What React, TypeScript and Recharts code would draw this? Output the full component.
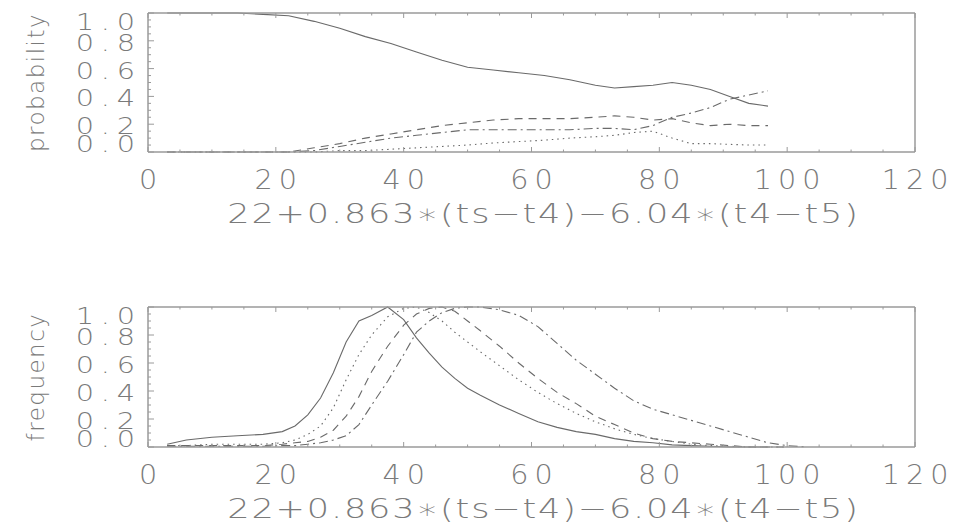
import { LineChart, Line, XAxis, YAxis, Label } from "recharts";

// shared axis ticks (majors every 20 / 0.2, minors every 5 / 0.05)
const xTicks = [0, 5, 10, 15, 20, 25, 30, 35, 40, 45, 50, 55, 60, 65, 70, 75, 80, 85, 90, 95, 100, 105, 110, 115, 120];
const yTicks = [0, 0.05, 0.1, 0.15, 0.2, 0.25, 0.3, 0.35, 0.4, 0.45, 0.5, 0.55, 0.6, 0.65, 0.7, 0.75, 0.8, 0.85, 0.9, 0.95, 1];
const xTitle = "22+0.863\u2217(ts\u2212t4)\u22126.04\u2217(t4\u2212t5)";

// top panel: probability
const probX = [3, 8, 14, 18, 22, 26, 30, 34, 38, 42, 46, 50, 54, 58, 62, 66, 70, 73, 76, 79, 82, 85, 88, 91, 94, 97];
const probSolid = [1.0, 1.0, 1.0, 0.99, 0.98, 0.94, 0.89, 0.83, 0.78, 0.72, 0.66, 0.61, 0.59, 0.57, 0.55, 0.52, 0.48, 0.46, 0.47, 0.48, 0.5, 0.48, 0.45, 0.4, 0.35, 0.33];
const probDashed = [0, 0, 0, 0, 0, 0.03, 0.06, 0.1, 0.13, 0.16, 0.19, 0.21, 0.23, 0.24, 0.24, 0.24, 0.25, 0.26, 0.25, 0.23, 0.24, 0.21, 0.19, 0.2, 0.19, 0.19];
const probDashDot = [0, 0, 0, 0, 0, 0.01, 0.04, 0.07, 0.1, 0.12, 0.14, 0.16, 0.16, 0.16, 0.16, 0.16, 0.17, 0.17, 0.16, 0.19, 0.25, 0.28, 0.32, 0.38, 0.41, 0.44];
const probDotted = [0, 0, 0, 0, 0, 0, 0.01, 0.01, 0.02, 0.03, 0.04, 0.05, 0.065, 0.075, 0.085, 0.1, 0.11, 0.12, 0.14, 0.15, 0.1, 0.06, 0.06, 0.055, 0.05, 0.05];

// bottom panel: frequency
const freqX = [3, 6, 10, 14, 18, 21, 23, 25, 27, 29, 31, 33, 35, 37.5, 40, 42, 44, 46, 48, 50, 52, 55, 58, 61, 64, 67, 70, 73, 76, 79, 82, 85, 88, 91, 94, 97, 100, 103];
const freqSolid = [0.02, 0.05, 0.07, 0.08, 0.09, 0.11, 0.15, 0.23, 0.35, 0.53, 0.75, 0.9, 0.94, 1.0, 0.91, 0.78, 0.67, 0.57, 0.49, 0.42, 0.37, 0.3, 0.24, 0.18, 0.14, 0.11, 0.09, 0.06, 0.04, 0.03, 0.015, 0.01, 0.005, 0, 0, 0, null, null];
const freqDotted = [0.01, 0.01, 0.02, 0.02, 0.02, 0.03, 0.05, 0.09, 0.15, 0.28, 0.48, 0.66, 0.8, 0.93, 0.99, 1.0, 0.96, 0.9, 0.82, 0.75, 0.68, 0.58, 0.48, 0.39, 0.31, 0.24, 0.18, 0.13, 0.09, 0.06, 0.04, 0.02, 0.01, 0.005, 0, 0, 0, null];
const freqDashed = [0.01, 0.01, 0.01, 0.01, 0.01, 0.02, 0.03, 0.04, 0.07, 0.12, 0.22, 0.36, 0.54, 0.72, 0.87, 0.95, 0.99, 1.0, 0.97, 0.9, 0.83, 0.72, 0.6, 0.49, 0.39, 0.31, 0.22, 0.16, 0.1, 0.06, 0.04, 0.03, 0.02, 0.01, 0, 0, 0, null];
const freqDashDot = [0.005, 0.005, 0.005, 0.005, 0.005, 0.01, 0.01, 0.02, 0.03, 0.05, 0.08, 0.16, 0.3, 0.47, 0.66, 0.82, 0.9, 0.96, 0.99, 1.0, 1.0, 0.98, 0.94, 0.86, 0.74, 0.62, 0.52, 0.42, 0.33, 0.27, 0.23, 0.19, 0.15, 0.11, 0.07, 0.03, 0.01, 0];

const probData = probX.map((x, i) => ({ x, a: probSolid[i], b: probDotted[i], c: probDashed[i], d: probDashDot[i] }));
const freqData = freqX.map((x, i) => ({ x, a: freqSolid[i], b: freqDotted[i], c: freqDashed[i], d: freqDashDot[i] }));

const font = "'DejaVu Sans', sans-serif";
const axisColor = "#9a9a9a";
const textColor = "#7a7a7a";
const lineColor = "#6a6a6a";

const isMajorX = (v: number) => v % 20 === 0;
const isMajorY = (v: number) => Math.abs(v * 5 - Math.round(v * 5)) < 1e-6;

// IDL vector font glyphs are wide, so stretch the text sideways
const WideText = ({ x, y, anchor, sx, size, ls, children }: any) => (
  <text transform={`translate(${x} ${y}) scale(${sx} 1)`} dy="0.35em" textAnchor={anchor}
    fontFamily={font} fontSize={size} letterSpacing={ls} fill={textColor} fontWeight={300}>
    {children}
  </text>
);

const BottomTick = ({ x, y, payload }: any) => {
  const v = payload.value;
  const major = isMajorX(v);
  return (
    <g>
      <line x1={x} y1={y} x2={x} y2={y - (major ? 5 : 2.5)} stroke={axisColor} />
      {major && <WideText x={x + 3} y={y + 28} anchor="middle" sx={1.1} size={26} ls={5.5}>{v}</WideText>}
    </g>
  );
};

const TopTick = ({ x, y, payload }: any) => {
  const major = isMajorX(payload.value);
  return <line x1={x} y1={y} x2={x} y2={y + (major ? 5 : 2.5)} stroke={axisColor} />;
};

const LeftTick = ({ x, y, payload }: any) => {
  const v = payload.value;
  const major = isMajorY(v);
  const shift = v === 1 ? 9 : v === 0 ? -8 : 2;
  return (
    <g>
      <line x1={x} y1={y} x2={x + (major ? 6 : 3)} y2={y} stroke={axisColor} />
      {major && <WideText x={x - 6} y={y + shift} anchor="end" sx={1.25} size={23} ls={5.5}>{v.toFixed(1)}</WideText>}
    </g>
  );
};

const RightTick = ({ x, y, payload }: any) => {
  const major = isMajorY(payload.value);
  return <line x1={x} y1={y} x2={x - (major ? 6 : 3)} y2={y} stroke={axisColor} />;
};

const XTitle = ({ viewBox }: any) => (
  <WideText x={viewBox.x + viewBox.width / 2 + 12} y={viewBox.y + 62} anchor="middle" sx={1.3} size={27} ls={1.4}>
    {xTitle}
  </WideText>
);

const makeYTitle = (text: string) => ({ viewBox }: any) => {
  const cy = viewBox.y + viewBox.height / 2;
  return (
    <text x={36} y={cy} dy="0.35em" transform={`rotate(-90 36 ${cy})`} textAnchor="middle" fontFamily={font} fontSize={23} letterSpacing={1.5} fill={textColor} fontWeight={300}>
      {text}
    </text>
  );
};

const Panel = ({ data, title, margin }: any) => (
  <LineChart width={953} height={265} data={data} margin={margin}>
    <XAxis xAxisId="b" dataKey="x" type="number" domain={[0, 120]} ticks={xTicks} interval={0} height={30}
      tickSize={0} tickMargin={0} tickLine={false} tick={<BottomTick />} axisLine={{ stroke: axisColor, strokeWidth: 1.5 }}>
      <Label content={<XTitle />} />
    </XAxis>
    <XAxis xAxisId="t" orientation="top" dataKey="x" type="number" domain={[0, 120]} ticks={xTicks} interval={0} height={5}
      tickSize={0} tickMargin={0} tickLine={false} tick={<TopTick />} axisLine={{ stroke: axisColor, strokeWidth: 1.5 }} />
    <YAxis yAxisId="l" type="number" domain={[0, 1]} ticks={yTicks} interval={0} width={100}
      tickSize={0} tickMargin={0} tickLine={false} tick={<LeftTick />} axisLine={{ stroke: axisColor, strokeWidth: 1.5 }}>
      <Label content={makeYTitle(title)} />
    </YAxis>
    <YAxis yAxisId="r" orientation="right" type="number" domain={[0, 1]} ticks={yTicks} interval={0} width={10}
      tickSize={0} tickMargin={0} tickLine={false} tick={<RightTick />} axisLine={{ stroke: axisColor, strokeWidth: 1.5 }} />
    <Line xAxisId="b" yAxisId="l" dataKey="a" type="linear" stroke={lineColor} strokeWidth={1.1} dot={false} isAnimationActive={false} />
    <Line xAxisId="b" yAxisId="l" dataKey="b" type="linear" stroke={lineColor} strokeWidth={1.1} strokeDasharray="1.5 4" dot={false} isAnimationActive={false} />
    <Line xAxisId="b" yAxisId="l" dataKey="c" type="linear" stroke={lineColor} strokeWidth={1.1} strokeDasharray="8 6" dot={false} isAnimationActive={false} />
    <Line xAxisId="b" yAxisId="l" dataKey="d" type="linear" stroke={lineColor} strokeWidth={1.1} strokeDasharray="9 4 2 4" dot={false} isAnimationActive={false} />
  </LineChart>
);

export default function App() {
  return (
    <div style={{ position: "absolute", left: 0, top: 0, width: 953, height: 530, background: "#fff" }}>
      <Panel data={probData} title="probability" margin={{ top: 8, right: 28, bottom: 83, left: 48 }} />
      <Panel data={freqData} title="frequency" margin={{ top: 37, right: 28, bottom: 53, left: 48 }} />
    </div>
  );
}
